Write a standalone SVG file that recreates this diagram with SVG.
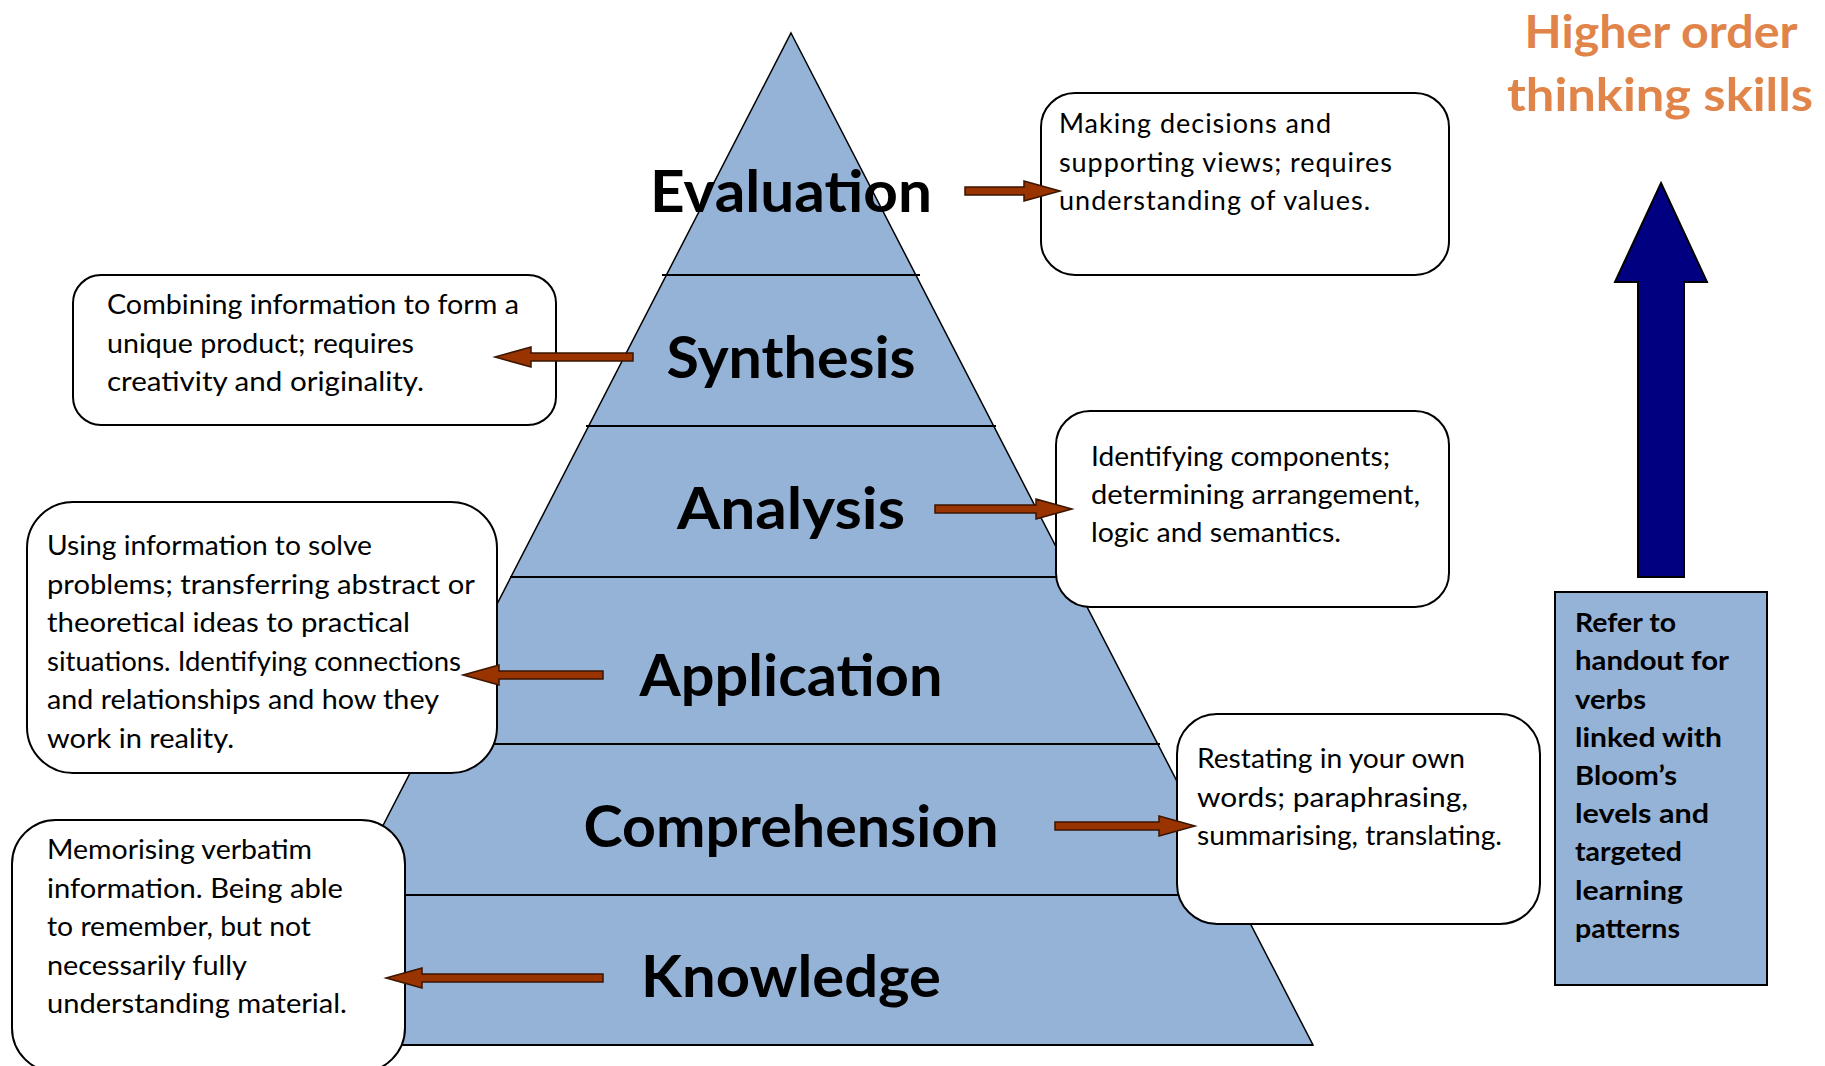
<svg xmlns="http://www.w3.org/2000/svg" width="1825" height="1066" viewBox="0 0 1825 1066">
<style>
.pyr{fill:#95B3D7;stroke:#000;stroke-width:1.5}
.div{stroke:#000;stroke-width:2.2}
.lvl{font-family:Lato,"Liberation Sans",sans-serif;font-weight:bold;font-size:58px;fill:#000;text-anchor:middle}
.box{fill:#fff;stroke:#000;stroke-width:2}
.txt{font-family:Lato,"Liberation Sans",sans-serif;font-size:27px;fill:#000}
.arr{fill:#993300;stroke:#3a1500;stroke-width:1.5;stroke-linejoin:miter}
.hot{font-family:Lato,"Liberation Sans",sans-serif;font-weight:bold;font-size:46px;fill:#E0844A;text-anchor:middle}
.ref{fill:#95B3D7;stroke:#000;stroke-width:2}
.reft{font-family:Lato,"Liberation Sans",sans-serif;font-weight:bold;font-size:27px;fill:#000}
</style>
<rect width="1825" height="1066" fill="#fff"/>
<g id="pyramid">
<polygon class="pyr" points="791,33 1313,1045 270,1045"/>
<line class="div" x1="662" y1="275" x2="920" y2="275"/>
<line class="div" x1="586" y1="426" x2="996" y2="426"/>
<line class="div" x1="510" y1="577" x2="1072" y2="577"/>
<line class="div" x1="423" y1="744" x2="1160" y2="744"/>
<line class="div" x1="345" y1="895" x2="1237" y2="895"/>
<line class="div" x1="270" y1="1045" x2="1313" y2="1045"/>
</g>
<g id="box-evaluation">
<rect class="box" x="1041" y="93" width="408" height="182" rx="34"/>
<text class="txt" lengthAdjust="spacingAndGlyphs"><tspan x="1059" y="133" textLength="272">Making decisions and</tspan><tspan x="1059" y="171.5" textLength="333">supporting views; requires</tspan><tspan x="1059" y="210" textLength="311">understanding of values.</tspan></text>
</g>
<g id="box-synthesis">
<rect class="box" x="73" y="275" width="483" height="150" rx="28"/>
<text class="txt"><tspan x="107" y="314" textLength="412" lengthAdjust="spacingAndGlyphs">Combining information to form a</tspan><tspan x="107" y="352.5" textLength="307" lengthAdjust="spacingAndGlyphs">unique product; requires</tspan><tspan x="107" y="391" textLength="317" lengthAdjust="spacingAndGlyphs">creativity and originality.</tspan></text>
</g>
<g id="box-analysis">
<rect class="box" x="1056" y="411" width="393" height="196" rx="34"/>
<text class="txt"><tspan x="1091" y="466" textLength="299" lengthAdjust="spacingAndGlyphs">Identifying components;</tspan><tspan x="1091" y="504" textLength="329" lengthAdjust="spacingAndGlyphs">determining arrangement,</tspan><tspan x="1091" y="542" textLength="250" lengthAdjust="spacingAndGlyphs">logic and semantics.</tspan></text>
</g>
<g id="box-application">
<rect class="box" x="27" y="502" width="470" height="271" rx="46"/>
<text class="txt"><tspan x="47" y="555" textLength="325" lengthAdjust="spacingAndGlyphs">Using information to solve</tspan><tspan x="47" y="593.5" textLength="428" lengthAdjust="spacingAndGlyphs">problems; transferring abstract or</tspan><tspan x="47" y="632" textLength="363" lengthAdjust="spacingAndGlyphs">theoretical ideas to practical</tspan><tspan x="47" y="670.5" textLength="414" lengthAdjust="spacingAndGlyphs">situations. Identifying connections</tspan><tspan x="47" y="709" textLength="392" lengthAdjust="spacingAndGlyphs">and relationships and how they</tspan><tspan x="47" y="747.5" textLength="187" lengthAdjust="spacingAndGlyphs">work in reality.</tspan></text>
</g>
<g id="box-comprehension">
<rect class="box" x="1177" y="714" width="363" height="210" rx="40"/>
<text class="txt"><tspan x="1197" y="768" textLength="268" lengthAdjust="spacingAndGlyphs">Restating in your own</tspan><tspan x="1197" y="806.5" textLength="271" lengthAdjust="spacingAndGlyphs">words; paraphrasing,</tspan><tspan x="1197" y="845" textLength="305" lengthAdjust="spacingAndGlyphs">summarising, translating.</tspan></text>
</g>
<g id="box-knowledge">
<rect class="box" x="12" y="820" width="393" height="252" rx="44"/>
<text class="txt"><tspan x="47" y="859" textLength="265" lengthAdjust="spacingAndGlyphs">Memorising verbatim</tspan><tspan x="47" y="897.5" textLength="296" lengthAdjust="spacingAndGlyphs">information. Being able</tspan><tspan x="47" y="936" textLength="264" lengthAdjust="spacingAndGlyphs">to remember, but not</tspan><tspan x="47" y="974.5" textLength="200" lengthAdjust="spacingAndGlyphs">necessarily fully</tspan><tspan x="47" y="1013" textLength="300" lengthAdjust="spacingAndGlyphs">understanding material.</tspan></text>
</g>
<g id="levels">
<text class="lvl" x="791" y="212" textLength="282" lengthAdjust="spacingAndGlyphs">Evaluation</text>
<text class="lvl" x="791" y="378" textLength="249" lengthAdjust="spacingAndGlyphs">Synthesis</text>
<text class="lvl" x="791" y="529" textLength="228" lengthAdjust="spacingAndGlyphs">Analysis</text>
<text class="lvl" x="791" y="696" textLength="303" lengthAdjust="spacingAndGlyphs">Application</text>
<text class="lvl" x="791" y="847" textLength="415" lengthAdjust="spacingAndGlyphs">Comprehension</text>
<text class="lvl" x="791" y="997" textLength="300" lengthAdjust="spacingAndGlyphs">Knowledge</text>
</g>
<g id="connectors">
<path class="arr" d="M965,187 H1024 V181 L1060,191 L1024,201 V195 H965 Z"/>
<path class="arr" d="M633,353 H531 V347 L495,357 L531,367 V361 H633 Z"/>
<path class="arr" d="M935,505 H1036 V499 L1072,509 L1036,519 V513 H935 Z"/>
<path class="arr" d="M603,671 H499 V665 L463,675 L499,685 V679 H603 Z"/>
<path class="arr" d="M1055,822 H1159 V816 L1195,826 L1159,836 V830 H1055 Z"/>
<path class="arr" d="M603,974 H422 V968 L386,978 L422,988 V982 H603 Z"/>
</g>
<g id="higher-order">
<text class="hot" x="1661" y="48" textLength="273" lengthAdjust="spacingAndGlyphs">Higher order</text>
<text class="hot" x="1660" y="111" textLength="306" lengthAdjust="spacingAndGlyphs">thinking skills</text>
</g>
<g id="up-arrow">
<polygon points="1661,183 1707,282 1684,282 1684,577 1638,577 1638,282 1615,282" fill="#000080" stroke="#000" stroke-width="2"/>
</g>
<g id="refer-box">
<rect class="ref" x="1555" y="592" width="212" height="393"/>
<text class="reft"><tspan x="1575" y="632" textLength="101" lengthAdjust="spacingAndGlyphs">Refer to</tspan><tspan x="1575" y="670" textLength="154" lengthAdjust="spacingAndGlyphs">handout for</tspan><tspan x="1575" y="708.5" textLength="71" lengthAdjust="spacingAndGlyphs">verbs</tspan><tspan x="1575" y="746.5" textLength="147" lengthAdjust="spacingAndGlyphs">linked with</tspan><tspan x="1575" y="785" textLength="102" lengthAdjust="spacingAndGlyphs">Bloom’s</tspan><tspan x="1575" y="823" textLength="134" lengthAdjust="spacingAndGlyphs">levels and</tspan><tspan x="1575" y="861" textLength="107" lengthAdjust="spacingAndGlyphs">targeted</tspan><tspan x="1575" y="899.5" textLength="108" lengthAdjust="spacingAndGlyphs">learning</tspan><tspan x="1575" y="937.5" textLength="105" lengthAdjust="spacingAndGlyphs">patterns</tspan></text>
</g>
</svg>
